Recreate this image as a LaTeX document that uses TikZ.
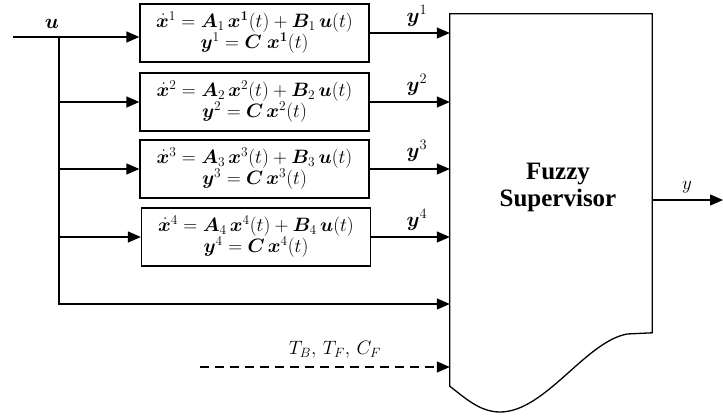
\documentclass[tikz,border=0pt]{standalone}
\usepackage{amsmath}
\usepackage{bm}
\usepackage{fontspec}
\newfontfamily\supfont{Liberation Serif}
\usetikzlibrary{arrows.meta,calc}
\newcommand{\eqpair}[2]{\scalebox{1.12}{\begin{tabular}{@{}c@{}}#1\\[-1pt]#2\end{tabular}}}
\begin{document}
\begin{tikzpicture}[x=1pt,y=-1pt,
  every node/.style={inner sep=0pt},
  line/.style={line width=1.3pt},
  arr/.style={line width=1.3pt,-{Triangle[length=13pt,width=11pt]}},
  sysbox/.style={draw,line width=1.3pt,minimum width=229pt,minimum height=58pt,align=center,font=\fontsize{17.28}{19}\selectfont},
  lab/.style={font=\fontsize{20.74}{22}\selectfont},
  tlab/.style={font=\fontsize{17.28}{20}\selectfont}]
\useasboundingbox (0,0) rectangle (723,418);
% system boxes
\node[sysbox] (b1) at (254.5,33) {\eqpair{$\dot{\bm{x}}^1 = \bm{A}_1\,\bm{x}^{\bm{1}}(t) + \bm{B}_1\,\bm{u}(t)$}{$\bm{y}^1 = \bm{C}\;\bm{x}^{\bm{1}}(t)$}};
\node[sysbox] (b2) at (254.5,102) {\eqpair{$\dot{\bm{x}}^2 = \bm{A}_2\,\bm{x}^2(t) + \bm{B}_2\,\bm{u}(t)$}{$\bm{y}^2 = \bm{C}\,\bm{x}^2(t)$}};
\node[sysbox] (b3) at (254.5,169) {\eqpair{$\dot{\bm{x}}^3 = \bm{A}_3\,\bm{x}^3(t) + \bm{B}_3\,\bm{u}(t)$}{$\bm{y}^3 = \bm{C}\,\bm{x}^3(t)$}};
\node[sysbox] (b4) at (256,237) {\eqpair{$\dot{\bm{x}}^4 = \bm{A}_4\,\bm{x}^4(t) + \bm{B}_4\,\bm{u}(t)$}{$\bm{y}^4 = \bm{C}\,\bm{x}^4(t)$}};
% supervisor
\node[minimum width=202pt,minimum height=372pt] (sup) at (551,200) {};
\node[font=\supfont\bfseries\fontsize{25}{27}\selectfont,align=center] (st) at (558,187) {Fuzzy\\Supervisor};
\draw[line] (sup.south west) -- (sup.north west) -- (sup.north east) -- ($(sup.north east)+(0,319)$)
  -- (627,334) .. controls (585,342) and (545,412) .. (500,412)
  .. controls (480,412) and (465,398) .. (sup.south west) -- cycle;
% outputs of systems
\draw[arr] (b1.east) -- (b1.east -| sup.west);
\draw[arr] (b2.east) -- (b2.east -| sup.west);
\draw[arr] (b3.east) -- (b3.east -| sup.west);
\draw[arr] (b4.east) -- (b4.east -| sup.west);
\node[lab] (y1) at (417,16) {$\bm{y}^1$};
\node[lab] (y2) at (417,85) {$\bm{y}^2$};
\node[lab] (y3) at (417,151) {$\bm{y}^3$};
\node[lab] (y4) at (417,220) {$\bm{y}^4$};
% input u
\coordinate (in) at (13,37);
\coordinate (j) at (59,37);
\coordinate (ju) at (59,304);
\node[lab] (ul) at (52,24) {$\bm{u}$};
\draw[arr] (in) -- (in -| b1.west);
\draw[arr] (j) -- (ju) -- (ju -| sup.west);
\draw[arr] (j |- b2.west) -- (b2.west);
\draw[arr] (j |- b3.west) -- (b3.west);
\draw[arr] (j |- b4.west) -- (b4.west);
% dashed parameters
\coordinate (d) at (200,367);
\draw[arr,dash pattern=on 9pt off 6pt] (d) -- (d -| sup.west);
\node[tlab] (tl) at (335,350) {\scalebox{1.12}{$T_B,\, T_F,\, C_F$}};
% output
\coordinate (out) at (723,200);
\draw[arr] (sup.east) -- (out);
\node[tlab] (yl) at (687,187) {\scalebox{1.1}{$y$}};
\end{tikzpicture}
\end{document}
